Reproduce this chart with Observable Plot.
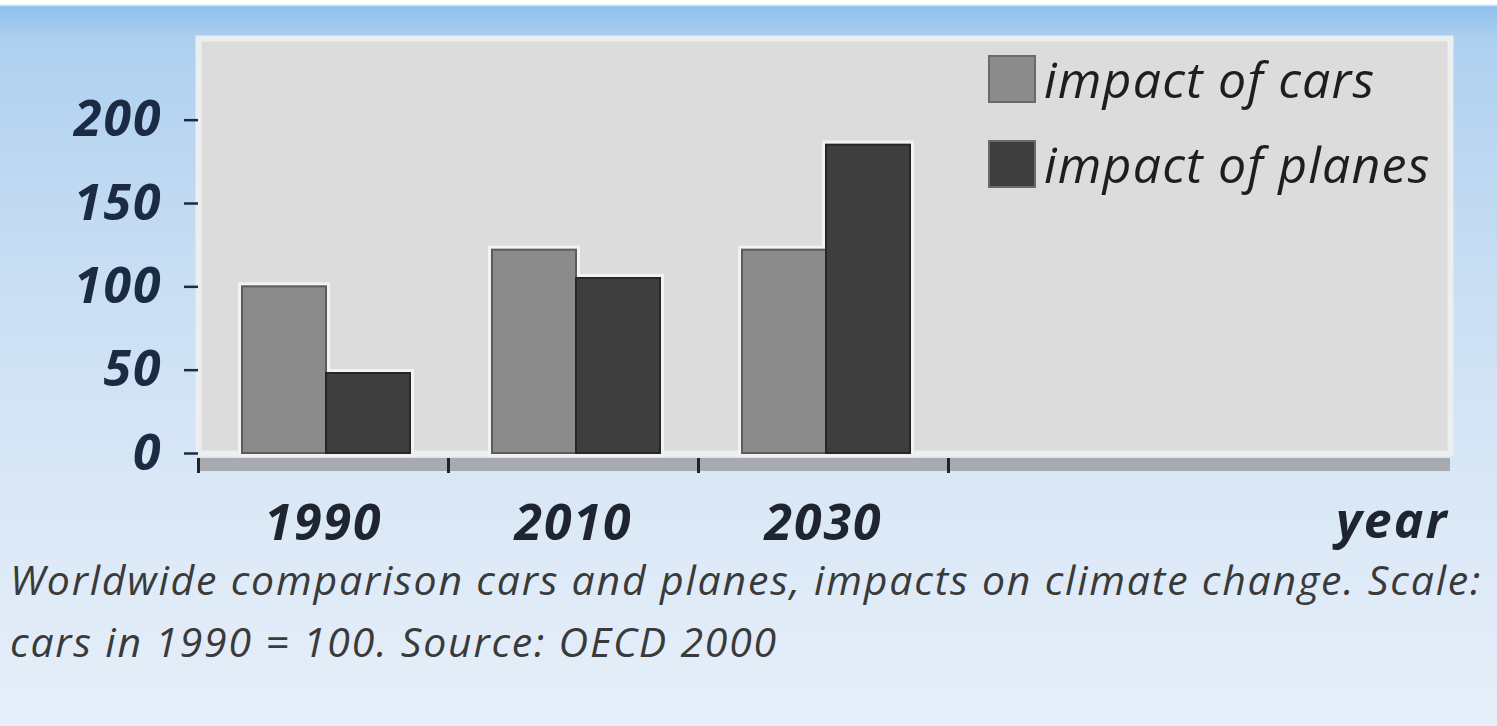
<!DOCTYPE html>
<html><head><meta charset="utf-8">
<script src="https://cdn.jsdelivr.net/npm/d3@7"></script>
<script src="https://cdn.jsdelivr.net/npm/@observablehq/plot@0.6"></script>
<style>
html,body{margin:0;padding:0;}
body{width:1497px;height:726px;overflow:hidden;position:relative;
  background:linear-gradient(to bottom,#ffffff 0px,#ffffff 4px,#8fc0ec 7px,#aed0f0 40px,#c6ddf3 250px,#d9e7f6 480px,#e6eff9 726px);
  font-family:"Open Sans",sans-serif;}
#chart{position:absolute;left:0;top:0;}
#chart svg text{letter-spacing:2px;}
#legend{position:absolute;left:989px;top:56px;}
#legend .lg-swatches{display:block !important;font-family:"Open Sans",sans-serif !important;font-size:50px !important;font-style:italic;color:#1e1e1e;margin:0 !important;letter-spacing:1.2px;}
#legend .lg-swatch{display:flex !important;align-items:center;margin:0 0 39px 0 !important;height:46px;}
#legend .lg-swatch > svg{margin-right:9px !important;}
#legend .lg-swatch > svg rect{stroke:#6a6a6a;stroke-width:2px;}
#caption{position:absolute;left:10px;top:557px;font-family:"Open Sans",sans-serif;font-style:italic;font-size:41px;letter-spacing:1.8px;color:#3a3a3a;white-space:nowrap;}
#caption div{line-height:44px;margin-bottom:18px;}
</style></head><body>
<div id="chart"></div><div id="legend"></div><div id="caption"></div>
<script>
const years = ["1990", "2010", "2030"];
const series = ["impact of cars", "impact of planes"];
const cars = [100, 122, 122];
const planes = [48, 105, 185];
const yTicks = [0, 50, 100, 150, 200];
const colors = ["#8b8b8b", "#3e3e3e"];
const xLabel = "year";
const captionLines = [
  "Worldwide comparison cars and planes, impacts on climate change. Scale:",
  "cars in 1990 = 100. Source: OECD 2000"
];

const carRows = years.map((year, i) => ({year, series: series[0], value: cars[i]}));
const planeRows = years.map((year, i) => ({year, series: series[1], value: planes[i]}));

const labelFont = {fontSize: 50, fontStyle: "italic", fontWeight: "bold", fontFamily: "Open Sans"};

const chart = Plot.plot({
  width: 1497, height: 556,
  marginLeft: 198, marginRight: 47, marginTop: 38, marginBottom: 103,
  style: {background: "transparent", overflow: "visible", fontFamily: "Open Sans"},
  x: {type: "band", domain: years, range: [198, 948], padding: 0, label: null, axis: null},
  y: {domain: [0, 249], label: null, axis: null},
  color: {domain: series, range: colors},
  marks: [
    Plot.frame({fill: "#dcdcdc", stroke: "#eceef0", strokeWidth: 6}),
    Plot.ruleY([0], {stroke: "#a7abb0", strokeWidth: 13, dy: 11}),
    Plot.barY(carRows, {x: "year", y: "value", fill: "none", stroke: "#f2f2f2", strokeWidth: 8, insetLeft: 44, insetRight: 122}),
    Plot.barY(planeRows, {x: "year", y: "value", fill: "none", stroke: "#f2f2f2", strokeWidth: 8, insetLeft: 128, insetRight: 38}),
    Plot.barY(carRows, {x: "year", y: "value", fill: "series", stroke: "#5c5c5c", strokeWidth: 2, insetLeft: 44, insetRight: 122}),
    Plot.barY(planeRows, {x: "year", y: "value", fill: "series", stroke: "#262626", strokeWidth: 2, insetLeft: 128, insetRight: 38}),
    Plot.axisY(yTicks, {anchor: "left", tickSize: 14, tickPadding: 22, color: "#1b2b44", strokeWidth: 2.5, ...labelFont, label: null}),
    Plot.axisX({tickSize: 0, tickPadding: 51, color: "#1f2530", ...labelFont, label: null}),
    Plot.ruleX(years, {x: d => d, dx: -125, stroke: "#1f2530", strokeWidth: 3, insetTop: 420, insetBottom: -20}),
    Plot.ruleX(years.slice(-1), {x: d => d, dx: 125, stroke: "#1f2530", strokeWidth: 3, insetTop: 420, insetBottom: -20}),
    Plot.text([xLabel], {frameAnchor: "bottom-right", dx: -2, dy: 84, textAnchor: "end", fill: "#1f2530", ...labelFont})
  ]
});
document.getElementById("chart").appendChild(chart);

const legend = Plot.legend({color: {domain: series, range: colors}, swatchSize: 46, className: "lg"});
document.getElementById("legend").appendChild(legend);

document.getElementById("caption").innerHTML = captionLines.map(s => `<div>${s}</div>`).join("");
</script>
</body></html>
